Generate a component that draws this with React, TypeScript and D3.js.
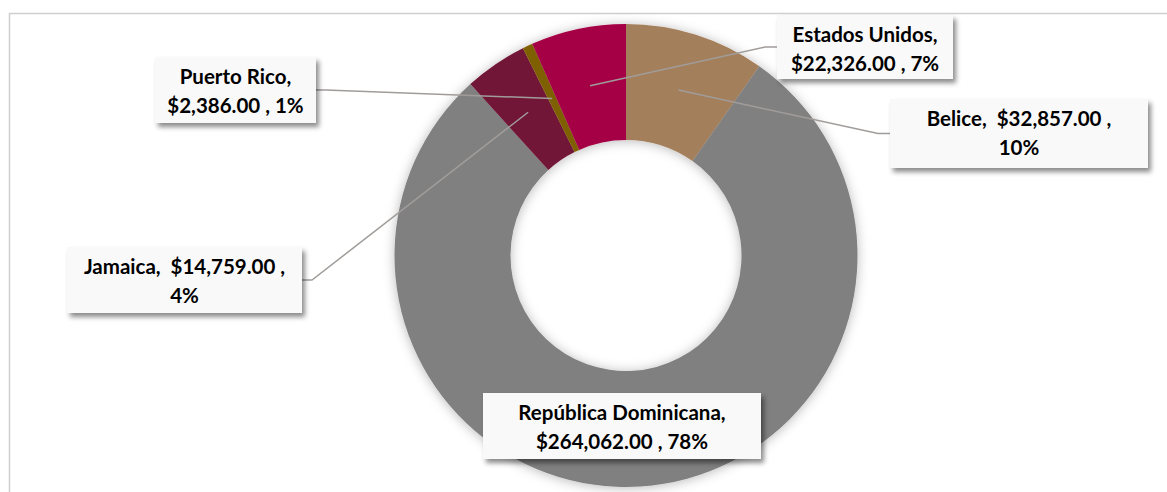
import React, { useRef, useEffect } from 'react';
import * as d3 from 'd3';

const countries = ['Belice', 'República Dominicana', 'Jamaica', 'Puerto Rico', 'Estados Unidos'];
const amounts = [32857, 264062, 14759, 2386, 22326];
const sliceColors = ['#A47F5C', '#808080', '#721637', '#7F6000', '#A50044'];

// label boxes (Excel placed them by hand): left, top, width, height, how the text wraps
const labelBoxes = [
  { x: 890, y: 99, w: 258, h: 69, wrap: 'pct', leader: true },
  { x: 483, y: 393, w: 278, h: 66, wrap: 'name', leader: false },
  { x: 67, y: 247, w: 235, h: 66, wrap: 'pct', leader: true },
  { x: 155, y: 57, w: 161, h: 66, wrap: 'name', leader: true },
  { x: 777, y: 15, w: 176, h: 64, wrap: 'name', leader: true },
];

const W = 1167;
const H = 492;

const App = () => {
  const ref = useRef(null);

  useEffect(() => {
    if (!ref.current) return;
    const svg = d3.select(ref.current);
    svg.selectAll('*').remove();

    const defs = svg.append('defs');
    const glow = defs.append('filter').attr('id', 'donutShadow')
      .attr('x', '-20%').attr('y', '-20%').attr('width', '140%').attr('height', '140%');
    glow.append('feDropShadow')
      .attr('dx', 0).attr('dy', 1).attr('stdDeviation', 6)
      .attr('flood-color', '#000').attr('flood-opacity', 0.28);

    const boxShadow = defs.append('filter').attr('id', 'boxShadow')
      .attr('x', '-10%').attr('y', '-20%').attr('width', '125%').attr('height', '150%');
    boxShadow.append('feDropShadow')
      .attr('dx', 3).attr('dy', 4).attr('stdDeviation', 2.5)
      .attr('flood-color', '#000').attr('flood-opacity', 0.45);

    // chart area border (only top and left edges are inside the picture)
    svg.append('path')
      .attr('d', `M9.5,${H} V13.5 H${W}`)
      .attr('fill', 'none')
      .attr('stroke', '#D0CECE')
      .attr('stroke-width', 1.5);

    const cx = 626, cy = 255.5;
    const outerR = 231.5, innerR = 115.5;

    const total = d3.sum(amounts);
    const data = countries.map((name, i) => ({ name, value: amounts[i], color: sliceColors[i], box: labelBoxes[i] }));

    const pie = d3.pie<any>().sort(null).value(d => d.value);
    const arcs = pie(data);
    const arc = d3.arc<any>().innerRadius(innerR).outerRadius(outerR);

    const g = svg.append('g').attr('transform', `translate(${cx},${cy})`);
    g.append('g').attr('filter', 'url(#donutShadow)')
      .selectAll('path')
      .data(arcs)
      .enter()
      .append('path')
      .attr('d', arc)
      .attr('fill', d => d.data.color);

    // leader lines
    arcs.forEach(a => {
      const b = a.data.box;
      if (!b.leader) return;
      const [px, py] = arc.centroid(a);
      const sx = cx + px, sy = cy + py;
      const midY = b.y + b.h / 2;
      const edgeX = b.x + b.w / 2 < sx ? b.x + b.w : b.x;
      const elbowX = edgeX < sx ? edgeX + 10 : edgeX - 12;
      svg.append('polyline')
        .attr('points', `${sx},${sy} ${elbowX},${midY} ${edgeX},${midY}`)
        .attr('fill', 'none')
        .attr('stroke', '#A09C9A')
        .attr('stroke-width', 1.5);
    });

    const money = d3.format('$,.2f');
    const labels = svg.selectAll('.lbl')
      .data(arcs)
      .enter()
      .append('g')
      .attr('class', 'lbl');

    labels.append('rect')
      .attr('x', d => d.data.box.x)
      .attr('y', d => d.data.box.y)
      .attr('width', d => d.data.box.w)
      .attr('height', d => d.data.box.h)
      .attr('fill', '#F9F9F9')
      .attr('filter', 'url(#boxShadow)');

    labels.each(function (d) {
      const b = d.data.box;
      const pct = Math.round((d.data.value / total) * 100) + '%';
      const lines = b.wrap === 'name'
        ? [`${d.data.name},`, `${money(d.data.value)} , ${pct}`]
        : [`${d.data.name},  ${money(d.data.value)} ,`, pct];
      const t = d3.select(this).append('text')
        .attr('text-anchor', 'middle')
        .attr('font-family', 'Lato, "Open Sans", sans-serif')
        .attr('font-weight', 'bold')
        .attr('font-size', 20.5)
        .attr('fill', '#000');
      lines.forEach((ln, i) => {
        t.append('tspan')
          .attr('x', b.x + b.w / 2)
          .attr('y', b.y + 27 + i * 29)
          .style('white-space', 'pre')
          .text(ln);
      });
    });
  }, []);

  return (
    <svg
      ref={ref}
      width={W}
      height={H}
      style={{ position: 'absolute', left: 0, top: 0, background: '#fff', display: 'block' }}
    />
  );
};

export default App;
